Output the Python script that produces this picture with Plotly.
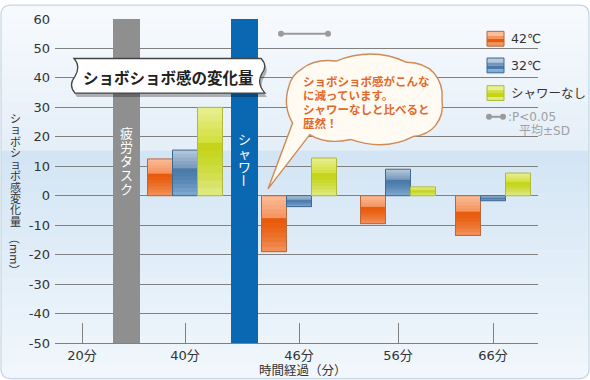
import math
import plotly.graph_objects as go

# ---------------- data ----------------
categories = ["20分", "40分", "46分", "56分", "66分"]
series_names = ["42℃", "32℃", "シャワーなし"]
val_42 = [None, 12.5, -19.0, -9.5, -13.5]
val_32 = [None, 15.5, -3.7, 9.0, -1.7]
val_none = [None, 30.0, 12.8, 3.0, 7.7]
y_ticks = [-50, -40, -30, -20, -10, 0, 10, 20, 30, 40, 50, 60]
y_title = "ショボショボ感変化量"
y_unit = "（mm）"
x_title = "時間経過（分）"
band_labels = ["疲労タスク", "シャワー"]
chart_title = "ショボショボ感の変化量"
bubble_lines = ["ショボショボ感がこんな", "に減っています。", "シャワーなしと比べると", "歴然！"]
sig_label = ":P<0.05"
sd_label = "平均±SD"
sig_y = 55

# ---------------- layout constants ----------------
W, H = 590, 380
L, R, T, B = 55, 538, 15, 343
cat_pos = [0.82, 1.85, 2.99, 3.98, 4.93]
band_x = [(1.13, 1.40), (2.31, 2.58)]
band_colors = ["#8f8f8f", "#0a67b2"]
bar_w = 0.25
JP = "Noto Sans CJK JP"
NUM = "DejaVu Sans, Noto Sans CJK JP"


def px(x, y):
    return (x - L) / (R - L), (B - y) / (B - T)


def P(x, y):
    a, b = px(x, y)
    return f"{a:.5f},{b:.5f}"


def lerp(c1, c2, t):
    a = [int(c1[i:i + 2], 16) for i in (1, 3, 5)]
    b = [int(c2[i:i + 2], 16) for i in (1, 3, 5)]
    return "#" + "".join("%02x" % round(a[k] + (b[k] - a[k]) * t) for k in range(3))


series_vals = [val_42, val_32, val_none]
# gradient: (top_light, light_before_step, dark_after_step, bottom)
series_grad = [
    ("#fbbd98", "#f5925d", "#e85a0a", "#f2945e"),
    ("#b6cadd", "#7596ba", "#4a79a8", "#80abd5"),
    ("#e8ef94", "#d3df3a", "#c4d416", "#e0ea8a"),
]
series_line = ["#b9673b", "#40698f", "#aebb3a"]

fig = go.Figure()

step = 0.4
fracs = [step * k / 5 for k in range(5)] + [step + (1 - step) * k / 7 for k in range(8)]
for si, vals in enumerate(series_vals):
    xs, v = [], []
    for i, val in enumerate(vals):
        if val is not None:
            xs.append(cat_pos[i])
            v.append(val)
    off = -0.375 + bar_w * si
    g = series_grad[si]
    # overlapping strips: each one spans from its start down to the bar's bottom
    for f0, f1 in zip(fracs[:-1], fracs[1:]):
        fm = (f0 + f1) / 2
        if fm < step:
            col = lerp(g[0], g[1], fm / step)
        else:
            col = lerp(g[2], g[3], ((fm - step) / (1 - step)) ** 1.5)
        bases = [min(0, val) for val in v]
        hs = [abs(val) * (1 - f0) for val in v]
        fig.add_trace(go.Bar(x=xs, y=hs, base=bases, width=bar_w, offset=off,
                             marker=dict(color=col, line=dict(width=0)),
                             showlegend=False, hoverinfo="skip"))
    fig.add_trace(go.Bar(x=xs, y=[abs(a) for a in v], base=[min(0, a) for a in v],
                         width=bar_w, offset=off, name=series_names[si],
                         marker=dict(color="rgba(0,0,0,0)",
                                     line=dict(width=1, color=series_line[si])),
                         showlegend=False))

# significance marker
fig.add_trace(go.Scatter(x=[cat_pos[2] - 0.18, cat_pos[2] + 0.29], y=[sig_y, sig_y],
                         mode="lines+markers", line=dict(color="#9a9a9a", width=2),
                         marker=dict(size=6, color="#9a9a9a"), showlegend=False))

shapes = []
# background gradient strips
strips = []
n1 = 12
for k in range(n1):
    y0 = 1 + (148 - 1) * k / n1
    y1 = 1 + (148 - 1) * (k + 1) / n1
    strips.append((y0, y1, lerp("#f7fafd", "#e5eff8", k / (n1 - 1))))
n2 = 16
for k in range(n2):
    y0 = 148 + (379 - 148) * k / n2
    y1 = 148 + (379 - 148) * (k + 1) / n2
    strips.append((y0, y1, lerp("#d3e5f4", "#f1f7fc", k / (n2 - 1))))
for y0, y1, col in strips:
    xa, ya = px(1, y0)
    xb, yb = px(589, y1 + 0.5)
    shapes.append(dict(type="rect", xref="paper", yref="paper", x0=xa, x1=xb, y0=ya, y1=yb,
                       fillcolor=col, line=dict(width=0), layer="below"))


def rr_path(x0, y0, x1, y1, r):
    return (f"M{P(x0 + r, y0)} L{P(x1 - r, y0)} Q{P(x1, y0)} {P(x1, y0 + r)} "
            f"L{P(x1, y1 - r)} Q{P(x1, y1)} {P(x1 - r, y1)} L{P(x0 + r, y1)} "
            f"Q{P(x0, y1)} {P(x0, y1 - r)} L{P(x0, y0 + r)} Q{P(x0, y0)} {P(x0 + r, y0)} Z")


r = 10
for (cx, cy, sx, sy) in [(1, 1, 1, 1), (589, 1, -1, 1), (1, 379, 1, -1), (589, 379, -1, -1)]:
    path = (f"M{P(cx - sx, cy - sy)} L{P(cx + sx * r, cy - sy)} L{P(cx + sx * r, cy)} "
            f"Q{P(cx, cy)} {P(cx, cy + sy * r)} L{P(cx - sx, cy + sy * r)} Z")
    shapes.append(dict(type="path", xref="paper", yref="paper", path=path,
                       fillcolor="white", line=dict(width=0), layer="below"))
shapes.append(dict(type="path", xref="paper", yref="paper", path=rr_path(1, 1, 589, 379, r),
                   line=dict(color="#c3d6e2", width=1.2), layer="below"))

# vertical bands
for (x0, x1), col in zip(band_x, band_colors):
    shapes.append(dict(type="rect", xref="x", yref="y", x0=x0, x1=x1, y0=-50, y1=60,
                       fillcolor=col, line=dict(width=0), layer="above"))


# title banner
def banner(dx, dy):
    return (f"M{P(74 + dx, 55 + dy)} L{P(261 + dx, 55 + dy)} "
            f"Q{P(268 + dx, 62 + dy)} {P(262 + dx, 70 + dy)} "
            f"Q{P(256 + dx, 80 + dy)} {P(265 + dx, 90 + dy)} "
            f"L{P(75 + dx, 90 + dy)} Q{P(68 + dx, 82 + dy)} {P(75 + dx, 73 + dy)} "
            f"Q{P(81 + dx, 63 + dy)} {P(74 + dx, 55 + dy)} Z")


shapes.append(dict(type="path", xref="paper", yref="paper", path=banner(2, 4),
                   fillcolor="rgba(0,0,0,0.28)", line=dict(width=0), layer="above"))
shapes.append(dict(type="path", xref="paper", yref="paper", path=banner(0, 0),
                   fillcolor="white", line=dict(color="#444444", width=1.3), layer="above"))

# speech bubble (cloud) on a superellipse
cx0, cy0, rx, ry = 365, 97, 77, 40
expo = 2 / 3.2


def se(a):
    c, s = math.cos(math.radians(a)), math.sin(math.radians(a))
    return (cx0 + rx * math.copysign(abs(c) ** expo, c), cy0 + ry * math.copysign(abs(s) ** expo, s))


angles = [155, 190, 224, 258, 292, 326, 360, 30, 62, 94, 126]
anchors = [se(a) for a in angles]
path = f"M{P(*anchors[0])}"
for a0, a1 in zip(anchors[:-1], anchors[1:]):
    mx, my = (a0[0] + a1[0]) / 2, (a0[1] + a1[1]) / 2
    nx, ny = (mx - cx0) / rx, (my - cy0) / ry
    nl = math.hypot(nx, ny)
    seg = math.hypot(a1[0] - a0[0], a1[1] - a0[1])
    k = 0.22 * seg
    ctrl = (mx + nx / nl * k, my + ny / nl * k)
    path += f" Q{P(*ctrl)} {P(*a1)}"
path += f" L{P(268, 187)} Z"
shapes.append(dict(type="path", xref="paper", yref="paper", path=path,
                   fillcolor="#fffaf2", line=dict(color="#cf8a55", width=1.4), layer="above"))

# legend swatches
leg_y = [35, 62, 90]
for i, yc in enumerate(leg_y):
    g = series_grad[i]
    parts = [(yc - 7.5, yc - 3, g[0]), (yc - 3, yc, g[1]), (yc, yc + 4, g[2]), (yc + 4, yc + 7.5, g[3])]
    for y0, y1, col in parts:
        xa, ya = px(487, y0)
        xb, yb = px(504, y1)
        shapes.append(dict(type="rect", xref="paper", yref="paper", x0=xa, x1=xb, y0=yb, y1=ya,
                           fillcolor=col, line=dict(width=0), layer="above"))
    xa, ya = px(487, yc - 7.5)
    xb, yb = px(504, yc + 7.5)
    shapes.append(dict(type="rect", xref="paper", yref="paper", x0=xa, x1=xb, y0=yb, y1=ya,
                       fillcolor="rgba(0,0,0,0)", line=dict(color=series_line[i], width=1),
                       layer="above"))
# legend significance line
xa, ya = px(489, 114)
xb, yb = px(503, 114)
shapes.append(dict(type="line", xref="paper", yref="paper", x0=xa, x1=xb, y0=ya, y1=yb,
                   line=dict(color="#9a9a9a", width=2), layer="above"))
for xx in (489, 503):
    a, b = px(xx, 114)
    da, db = 3 / (R - L), 3 / (B - T)
    shapes.append(dict(type="circle", xref="paper", yref="paper", x0=a - da, x1=a + da,
                       y0=b - db, y1=b + db, fillcolor="#9a9a9a", line=dict(width=0),
                       layer="above"))

annotations = []


def ann(text, x, y, size, color="#333333", family=JP, xanchor="center", bold=False, angle=0):
    a, b = px(x, y)
    if bold:
        text = f"<b>{text}</b>"
    annotations.append(dict(text=text, x=a, y=b, xref="paper", yref="paper", showarrow=False,
                            xanchor=xanchor, yanchor="middle", textangle=angle,
                            font=dict(size=size, color=color, family=family)))


# y title (vertical, upright characters)
for i, ch in enumerate(y_title):
    ann(ch, 15, 115 + i * 11.6, 11)
ann(y_unit, 15, 253, 11, angle=90)

# band labels
for (x0, x1), label, ys in zip(band_x, band_labels, [130, 136]):
    xc = L + ((x0 + x1) / 2 - L / 100) * 100
    for i, ch in enumerate(label):
        ann(ch, xc, ys + i * 14.2, 13, color="white", angle=90 if ch == "ー" else 0)

# banner title
ann(chart_title, 168, 74, 15.5, color="#222222", bold=True)

# bubble text
for i, line in enumerate(bubble_lines):
    ann(line, 301, 78 + i * 14.2, 11.5, color="#e2692a", xanchor="left", bold=True)

# legend labels
for name, yc in zip(series_names, leg_y):
    ann(name, 509, yc, 12.5, color="#333333", family=NUM, xanchor="left")
ann(sig_label, 506, 114, 12, color="#a0a0a0", family=NUM, xanchor="left")
ann(sd_label, 517, 128, 12, color="#a0a0a0", family=NUM, xanchor="left")

# x title
ann(x_title, 303, 370, 12.5)

fig.update_layout(
    width=W, height=H,
    margin=dict(l=L, r=W - R, t=T, b=H - B, pad=0),
    paper_bgcolor="white", plot_bgcolor="rgba(0,0,0,0)",
    barmode="overlay", showlegend=False,
    shapes=shapes, annotations=annotations,
    xaxis=dict(range=[L / 100, R / 100], tickvals=cat_pos, ticktext=categories,
               showgrid=False, zeroline=False, showline=True, linecolor="#808080",
               ticks="inside", ticklen=20, tickcolor="#808080", tickwidth=1,
               tickfont=dict(size=13, color="#333333", family=NUM), fixedrange=True),
    yaxis=dict(range=[-50, 60], tickvals=y_ticks, ticktext=[str(t) for t in y_ticks],
               showgrid=True, gridcolor="#808080", ticklabelstandoff=4,
               gridwidth=1, zeroline=False, showline=False, ticks="",
               tickfont=dict(size=13, color="#333333", family=NUM), fixedrange=True),
)

fig.write_html("out.html", config={"displayModeBar": False, "staticPlot": True},
               post_script="document.body.style.margin='0px';document.body.style.overflow='hidden';")
